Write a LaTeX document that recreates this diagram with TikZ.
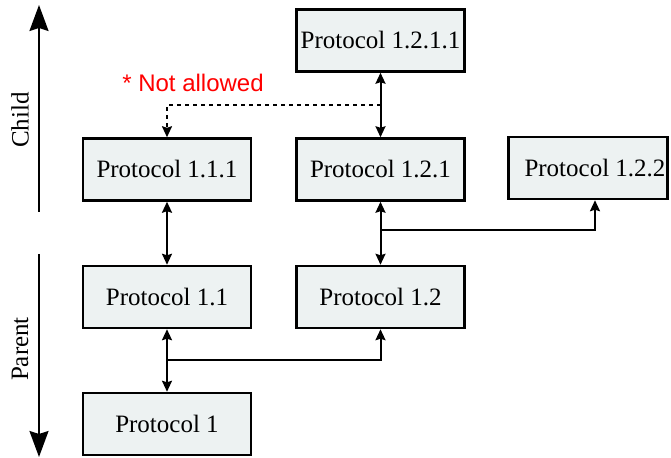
\documentclass[tikz,border=0pt]{standalone}
\usepackage{fontspec}
\setmainfont{Liberation Serif}
\newfontfamily\notefont{Liberation Sans}
\usetikzlibrary{arrows.meta,calc}
\definecolor{boxfill}{RGB}{237,242,242}
\definecolor{notered}{RGB}{255,0,0}
\tikzset{
  protobox/.style={draw=black, line width=1.25pt, fill=boxfill,
    minimum width=84pt, minimum height=31pt, inner sep=0pt,
    font=\fontsize{12.5}{15}\selectfont},
  link/.style={line width=1pt, {Stealth[length=5.5pt,width=5pt,inset=0.8pt]}-{Stealth[length=5.5pt,width=5pt,inset=0.8pt]}},
  onelink/.style={line width=1pt, -{Stealth[length=5.5pt,width=5pt,inset=0.8pt]}},
  axis/.style={line width=1pt, -{Stealth[length=13pt,width=9.5pt,inset=1.5pt]}},
  axislabel/.style={rotate=90, font=\fontsize{12.5}{15}\selectfont},
}
\begin{document}
\begin{tikzpicture}[x=0.5pt, y=-0.5pt]
\useasboundingbox (0,0) rectangle (671,458);

% protocol boxes
\node[protobox] (p1211) at (380.5,40.5) {Protocol 1.2.1.1};
\node[protobox] (p111)  at (167,169.5) {Protocol 1.1.1};
\node[protobox] (p121)  at (380.5,169.5) {Protocol 1.2.1};
\node[protobox, minimum width=79.5pt] (p122) at (588,168) {\hspace*{7pt}Protocol 1.2.2};
\node[protobox] (p11)   at (167,297) {Protocol 1.1};
\node[protobox] (p12)   at (380.5,297) {Protocol 1.2};
\node[protobox] (p1)    at (167,424) {Protocol 1};

% junction points between rows
\coordinate (d)  at ($(p1211.south)!0.5!(p121.north)$);
\coordinate (j1) at ($(p121.south)!0.45!(p12.north)$);
\coordinate (j2) at ($(p11.south)!0.5!(p1.north)$);

% parent/child links
\draw[link] (p1211.south) -- (p121.north);
\draw[link] (p111.south) -- (p11.north);
\draw[link] (p121.south) -- (p12.north);
\draw[link] (p11.south) -- (p1.north);
\draw[onelink] (j1) -| ([xshift=3.5pt]p122.south);
\draw[onelink] (j2) -| (p12.south);

% forbidden link
\draw[line width=1pt, dash pattern=on 2pt off 2pt, -{Stealth[length=5.5pt,width=5pt,inset=0.8pt]}] (d) -| (p111.north);
\node[text=notered, font=\notefont\fontsize{12}{14}\selectfont] (note) at (193,83) {* Not allowed};

% direction axes
\coordinate (ca) at (39,212);
\coordinate (cb) at (39,5);
\coordinate (pa) at (39,254);
\coordinate (pb) at (39,457);
\draw[axis] (ca) -- (cb);
\draw[axis] (pa) -- (pb);
\node[axislabel] (child)  at (20,120) {Child};
\node[axislabel] (parent) at (20,349) {Parent};
\end{tikzpicture}
\end{document}
